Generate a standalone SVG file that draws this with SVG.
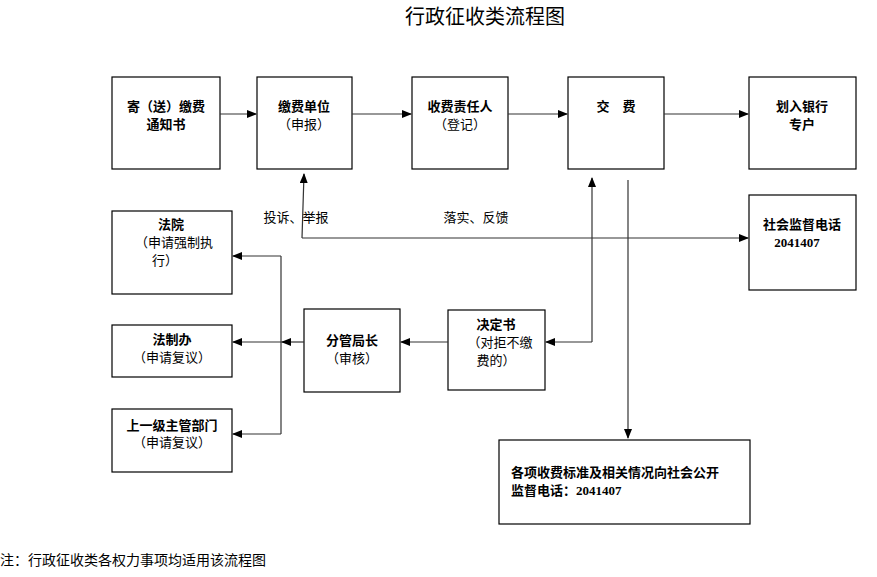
<svg xmlns="http://www.w3.org/2000/svg" width="877" height="577" viewBox="0 0 877 577">
<style>
rect{fill:#fff;stroke:#000;stroke-width:1.2}
text{font-family:"Liberation Sans","Noto Sans CJK SC",sans-serif;font-size:13px;text-anchor:middle;fill:#000}
.b{font-weight:bold}
.n{font-family:"Liberation Serif","Noto Sans CJK SC",serif;font-weight:bold}
.l{text-anchor:start}
#c path{fill:none;stroke:#333;stroke-width:1.2}
</style>
<defs><marker id="a" markerWidth="10" markerHeight="8" refX="9" refY="4" orient="auto" markerUnits="userSpaceOnUse"><path d="M0,0L10,4L0,8z" fill="#000"/></marker></defs>
<rect width="877" height="577" style="stroke:none"/>
<text x="485" y="24" style="font-size:20px">行政征收类流程图</text>
<g id="n1"><rect x="112" y="77" width="108" height="92"/><text class="b" x="166" y="111">寄（送）缴费</text><text class="b" x="166" y="129">通知书</text></g>
<g id="n2"><rect x="257" y="77" width="95" height="92"/><text class="b" x="304" y="111">缴费单位</text><text x="304" y="129">（申报）</text></g>
<g id="n3"><rect x="412" y="77" width="96" height="92"/><text class="b" x="460" y="111">收费责任人</text><text x="460" y="129">（登记）</text></g>
<g id="n4"><rect x="568" y="77" width="96" height="92"/><text class="b" x="616" y="111">交　费</text></g>
<g id="n5"><rect x="749" y="77" width="107" height="92"/><text class="b" x="802" y="111">划入银行</text><text class="b" x="802" y="129">专户</text></g>
<g id="n6"><rect x="749" y="195" width="107" height="95"/><text class="b" x="802" y="229">社会监督电话</text><text class="n" x="797" y="247">2041407</text></g>
<g id="n7"><rect x="112" y="211" width="120" height="83"/><text class="b" x="171" y="229">法院</text><text x="174" y="247">（申请强制执</text><text x="165" y="265">行）</text></g>
<g id="n8"><rect x="112" y="325" width="120" height="52"/><text class="b" x="172" y="344">法制办</text><text x="172" y="362">（申请复议）</text></g>
<g id="n9"><rect x="112" y="409" width="120" height="63"/><text class="b" x="172" y="430">上一级主管部门</text><text x="172" y="447">（申请复议）</text></g>
<g id="n10"><rect x="304" y="309" width="96" height="83"/><text class="b" x="352" y="345">分管局长</text><text x="352" y="363">（审核）</text></g>
<g id="n11"><rect x="448" y="310" width="97" height="80"/><text class="b" x="496" y="329">决定书</text><text x="500" y="347">（对拒不缴</text><text x="496" y="365">费的）</text></g>
<g id="n12"><rect x="499" y="440" width="251" height="84"/><text class="b l" x="511" y="477">各项收费标准及相关情况向社会公开</text><text class="b l" x="511" y="495">监督电话：<tspan class="n">2041407</tspan></text></g>
<text x="296" y="222">投诉、举报</text>
<text x="476" y="222">落实、反馈</text>
<g id="c">
<path d="M220,114H256" marker-end="url(#a)"/>
<path d="M352,114H411" marker-end="url(#a)"/>
<path d="M508,114H567" marker-end="url(#a)"/>
<path d="M664,114H748" marker-end="url(#a)"/>
<path d="M302,238L304,174" marker-end="url(#a)"/>
<path d="M302,238H748" marker-end="url(#a)"/>
<path d="M592,342V178" marker-end="url(#a)"/>
<path d="M592,342H546" marker-end="url(#a)"/>
<path d="M628,180V438" marker-end="url(#a)"/>
<path d="M448,342H401" marker-end="url(#a)"/>
<path d="M304,342H282" marker-end="url(#a)"/>
<path d="M282,342H233" marker-end="url(#a)"/>
<path d="M281,256V434"/>
<path d="M281,256H233" marker-end="url(#a)"/>
<path d="M281,434H233" marker-end="url(#a)"/>
</g>
<text class="l" x="0" y="565" style="font-size:14px">注：行政征收类各权力事项均适用该流程图</text>
</svg>
